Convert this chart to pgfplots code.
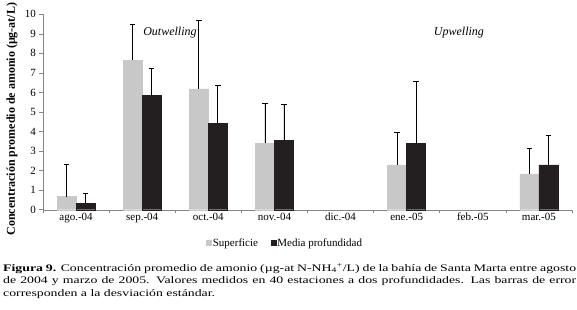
\documentclass[border=0pt]{standalone}
\usepackage{fontspec}
\setmainfont{Liberation Serif}
\newfontfamily\capfont[FakeStretch=1.38]{Liberation Serif}
\usepackage{pgfplots}
\pgfplotsset{compat=1.18}
\definecolor{lg}{HTML}{C8C8C8}
\definecolor{dk}{HTML}{231F20}
\definecolor{ax}{HTML}{868686}
\begin{document}
\begin{tikzpicture}
\useasboundingbox (-43pt,-99.3pt) rectangle (534pt,209.7pt);
\begin{axis}[
 at={(0pt,0pt)}, anchor=south west,
 scale only axis, width=529pt, height=195.4pt,
 xmin=-0.5, xmax=7.5, ymin=0, ymax=10,
 axis x line=bottom, axis y line=left,
 axis line style={-, ax},
 tick align=outside,
 major tick length=3.5pt,
 tick style={ax, line width=0.6pt},
 ytick={0,...,10},
 xtick={-0.5,0.5,...,7.5},
 xticklabels={},
 extra x ticks={0,...,7},
 extra x tick labels={ago.-04,sep.-04,oct.-04,nov.-04,dic.-04,ene.-05,feb.-05,mar.-05},
 extra x tick style={major tick length=0pt},
 ticklabel style={font=\fontsize{11}{13}\selectfont},
 /pgf/number format/assume math mode=true,
 ylabel={\textbf{Concentración promedio de amonio (µg-at/L)}},
 ylabel style={at={(axis description cs:-0.0586,0.464)}, anchor=center, font=\fontsize{12}{14}\selectfont},
 ybar=0pt, bar width=19pt,
 legend style={at={(axis description cs:0.457,-0.17)}, anchor=center, draw=none, fill=none, legend columns=2, font=\fontsize{11}{13}\selectfont, nodes={inner sep=1pt}, /tikz/column 2/.style={column sep=12pt}},
 legend image code/.code={\fill[#1] (0pt,-2.5pt) rectangle (5pt,2.5pt);},
 clip=false,
]
\addplot+[fill=lg, draw=lg, error bars/.cd, y dir=plus, y explicit, error bar style={black, line width=0.8pt}, error mark options={rotate=90, black, line width=0.8pt, mark size=2.8pt}]
 table[x=x, y=y, y error=e] {
x y e
0 0.67 1.63
1 7.65 1.84
2 6.19 3.50
3 3.41 2.01
5 2.29 1.67
7 1.83 1.33
};
\addplot+[fill=dk, draw=dk, error bars/.cd, y dir=plus, y explicit, error bar style={black, line width=0.8pt}, error mark options={rotate=90, black, line width=0.8pt, mark size=2.8pt}]
 table[x=x, y=y, y error=e] {
x y e
0 0.34 0.50
1 5.85 1.37
2 4.42 1.95
3 3.55 1.84
5 3.40 3.19
7 2.29 1.52
};
\legend{Superficie, Media profundidad}
\node[font=\fontsize{12}{14}\selectfont\itshape] at (axis cs:1.42,9.04) {Outwelling};
\node[font=\fontsize{12}{14}\selectfont\itshape] at (axis cs:5.79,9.04) {Upwelling};
\end{axis}
\begin{scope}[font=\capfont\fontsize{10}{12}\selectfont]
\node[anchor=base west, inner sep=0pt] at (-40pt,-61.3pt) {\makebox[573pt][s]{\textbf{Figura 9.} Concentración promedio de amonio (µg-at N-NH\textsubscript{4}\textsuperscript{+}/L) de la bahía de Santa Marta entre agosto}};
\node[anchor=base west, inner sep=0pt] at (-40pt,-73.8pt) {\makebox[573pt][s]{de 2004 y marzo de 2005. Valores medidos en 40 estaciones a dos profundidades. Las barras de error}};
\node[anchor=base west, inner sep=0pt] at (-40pt,-86.3pt) {corresponden a la desviación estándar.};
\end{scope}
\end{tikzpicture}
\end{document}
